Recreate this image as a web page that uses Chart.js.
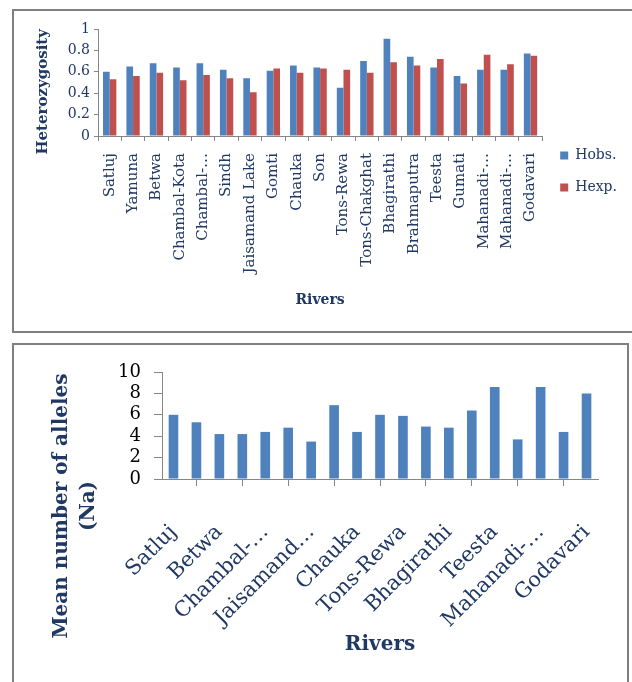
<!DOCTYPE html>
<html><head><meta charset="utf-8">
<script src="https://cdn.jsdelivr.net/npm/chart.js@4/dist/chart.umd.min.js"></script>
<style>
html,body{margin:0;padding:0;background:#fff;width:632px;height:682px;overflow:hidden;}
.box{position:absolute;border:2px solid #7f7f7f;box-sizing:border-box;}
.wrap{position:absolute;left:0;}
canvas{display:block;}
</style></head><body>
<div class="box" style="left:12px;top:9px;width:640px;height:324px;"></div>
<div class="box" style="left:12px;top:343px;width:617px;height:360px;"></div>
<div class="wrap" style="top:0;width:632px;height:332px;"><canvas id="c1" width="632" height="332"></canvas></div>
<div class="wrap" style="top:344px;width:632px;height:338px;"><canvas id="c2" width="632" height="338"></canvas></div>
<script>
const riversTop = ['Satluj','Yamuna','Betwa','Chambal-Kota','Chambal-…','Sindh','Jaisamand Lake','Gomti','Chauka','Son','Tons-Rewa','Tons-Chakghat','Bhagirathi','Brahmaputra','Teesta','Gumati','Mahanadi-…','Mahanadi-…','Godavari'];
const riversBottom = ['Satluj','Yamuna','Betwa','Chambal-Kota','Chambal-…','Sindh','Jaisamand…','Gomti','Chauka','Son','Tons-Rewa','Tons-Chakghat','Bhagirathi','Brahmaputra','Teesta','Gumati','Mahanadi-…','Mahanadi-…','Godavari'];
const hobs = [0.60,0.65,0.68,0.64,0.68,0.62,0.54,0.61,0.66,0.64,0.45,0.70,0.91,0.74,0.64,0.56,0.62,0.62,0.77];
const hexp = [0.53,0.56,0.59,0.52,0.57,0.54,0.41,0.63,0.59,0.63,0.62,0.59,0.69,0.66,0.72,0.49,0.76,0.67,0.75];
const na = [6.0,5.3,4.2,4.2,4.4,4.8,3.5,6.9,4.4,6.0,5.9,4.9,4.8,6.4,8.6,3.7,8.6,4.4,8.0];

const navy = '#1F3864';
const axisGray = '#868686';
Chart.defaults.font.family = "'DejaVu Serif', serif";

new Chart(document.getElementById('c1'), {
  type: 'bar',
  data: { labels: riversTop, datasets: [
    { label: 'Hobs.', data: hobs, backgroundColor: '#4F81BD' },
    { label: 'Hexp.', data: hexp, backgroundColor: '#C0504D' }
  ]},
  options: {
    responsive: false, animation: false, devicePixelRatio: 1,
    layout: { padding: { left: 14, top: 29, right: 5, bottom: 18 } },
    datasets: { bar: { categoryPercentage: 0.57, barPercentage: 1 } },
    plugins: {
      legend: { position: 'right', labels: { boxWidth: 8, boxHeight: 8, padding: 18, color: navy, font: { size: 14 } } },
      tooltip: { enabled: false }
    },
    scales: {
      x: {
        grid: { display: true, drawOnChartArea: false, drawTicks: true, tickLength: 5, color: axisGray, offset: true },
        border: { color: axisGray },
        ticks: { autoSkip: false, minRotation: 90, maxRotation: 90, padding: 12, color: navy, font: { size: 15 } },
        title: { display: true, text: 'Rivers', color: navy, font: { size: 14, weight: 'bold' }, padding: { top: 0, bottom: 5 } },
        afterFit: s => { s.height = 178; }
      },
      y: {
        min: 0, max: 1,
        ticks: { stepSize: 0.2, autoSkip: false, padding: 4, color: navy, font: { size: 14 },
                 callback: v => String(Math.round(v * 10) / 10) },
        grid: { drawOnChartArea: false, tickLength: 4, color: axisGray },
        border: { color: axisGray },
        title: { display: true, text: 'Heterozygosity', align: 'end', color: navy, font: { size: 15, weight: 'bold' }, padding: { top: 20, bottom: 0 } },
        afterFit: s => { s.width = 84; }
      }
    }
  }
});

new Chart(document.getElementById('c2'), {
  type: 'bar',
  data: { labels: riversBottom, datasets: [
    { label: 'Na', data: na, backgroundColor: '#4F81BD', categoryPercentage: 1, barPercentage: 0.42 }
  ]},
  options: {
    responsive: false, animation: false, devicePixelRatio: 1,
    layout: { padding: { left: 14, top: 28, right: 34, bottom: 42 } },
    plugins: {
      legend: { display: false },
      tooltip: { enabled: false },
      title: { display: true, position: 'left', text: ['Mean number of alleles', '(Na)'], color: navy,
               font: { size: 20, weight: 'bold', lineHeight: 1.35 }, padding: { top: 34, bottom: 0 } }
    },
    scales: {
      x: {
        grid: { display: true, drawOnChartArea: false, tickLength: 7, color: axisGray, offset: true },
        border: { color: axisGray },
        ticks: { autoSkip: false, minRotation: 45, maxRotation: 45, padding: 34, color: navy, font: { size: 21 },
                 callback: (v, i) => (i % 2 === 0 ? riversBottom[i] : null) },
        title: { display: true, text: 'Rivers', color: navy, font: { size: 20, weight: 'bold' }, padding: { top: 0, bottom: -17 } },
        afterFit: s => { s.height = 161; s.paddingRight = 0; s.paddingLeft = 0; }
      },
      y: {
        min: 0, max: 10,
        ticks: { stepSize: 2, autoSkip: false, padding: 13, color: '#000', font: { size: 18 } },
        grid: { drawOnChartArea: false, tickLength: 8, color: axisGray },
        border: { color: axisGray },
        afterFit: s => { s.width = 60; }
      }
    }
  }
});
</script>
</body></html>
